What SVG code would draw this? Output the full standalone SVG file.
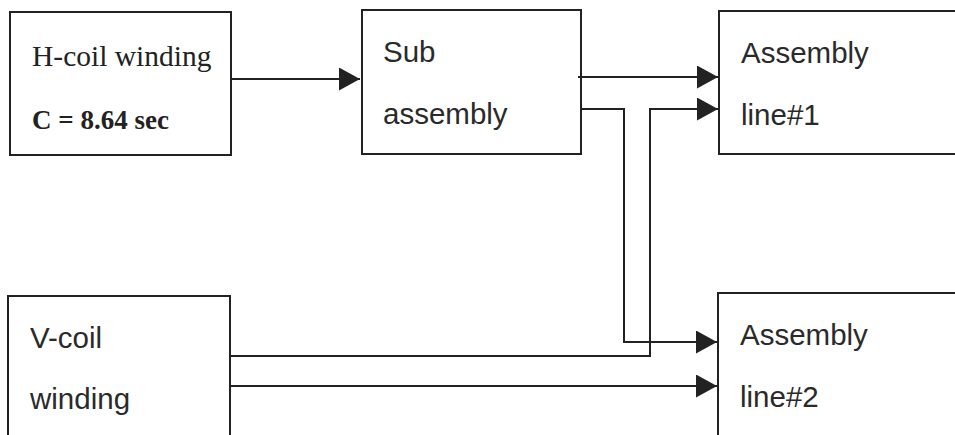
<svg xmlns="http://www.w3.org/2000/svg" width="955" height="435" viewBox="0 0 955 435">
<style>
.box{fill:#fff;stroke:#222;stroke-width:2}
.ln{fill:none;stroke:#222;stroke-width:2}
.ser{font-family:"Liberation Serif",serif;fill:#222}
.san{font-family:"Liberation Sans",Arial,sans-serif;font-size:29.5px;fill:#2a2a2a}
</style>
<defs>
<marker id="ah" markerUnits="userSpaceOnUse" markerWidth="22" markerHeight="23" refX="21" refY="11.5" orient="auto" viewBox="0 0 22 23">
<path d="M0,0 L21,11.5 L0,23 z" fill="#222"/>
</marker>
</defs>
<rect width="955" height="435" fill="#fff"/>
<g id="n-hcoil">
<rect class="box" x="10" y="12" width="221" height="143"/>
<text class="ser" x="32" y="66" font-size="29.5">H-coil winding</text>
<text class="ser" x="32" y="129" font-size="27" font-weight="bold">C = 8.64 sec</text>
</g>
<g id="n-sub">
<rect class="box" x="362" y="10" width="219" height="144"/>
<text class="san" x="383" y="62">Sub</text>
<text class="san" x="383" y="124">assembly</text>
</g>
<g id="n-line1">
<rect class="box" x="719" y="11" width="250" height="143"/>
<text class="san" x="741" y="63">Assembly</text>
<text class="san" x="741" y="125">line#1</text>
</g>
<g id="n-vcoil">
<rect class="box" x="8" y="296" width="222" height="160"/>
<text class="san" x="30" y="348">V-coil</text>
<text class="san" x="30" y="409">winding</text>
</g>
<g id="n-line2">
<rect class="box" x="718" y="293" width="250" height="160"/>
<text class="san" x="740" y="345">Assembly</text>
<text class="san" x="740" y="407">line#2</text>
</g>
<g id="connectors">
<path class="ln" d="M231,79 H360" marker-end="url(#ah)"/>
<path class="ln" d="M578,77 H718" marker-end="url(#ah)"/>
<path class="ln" d="M581,109 H624 V342 H717" marker-end="url(#ah)"/>
<path class="ln" d="M230,356 H650 V109 H718" marker-end="url(#ah)"/>
<path class="ln" d="M230,386 H717" marker-end="url(#ah)"/>
</g>
</svg>
